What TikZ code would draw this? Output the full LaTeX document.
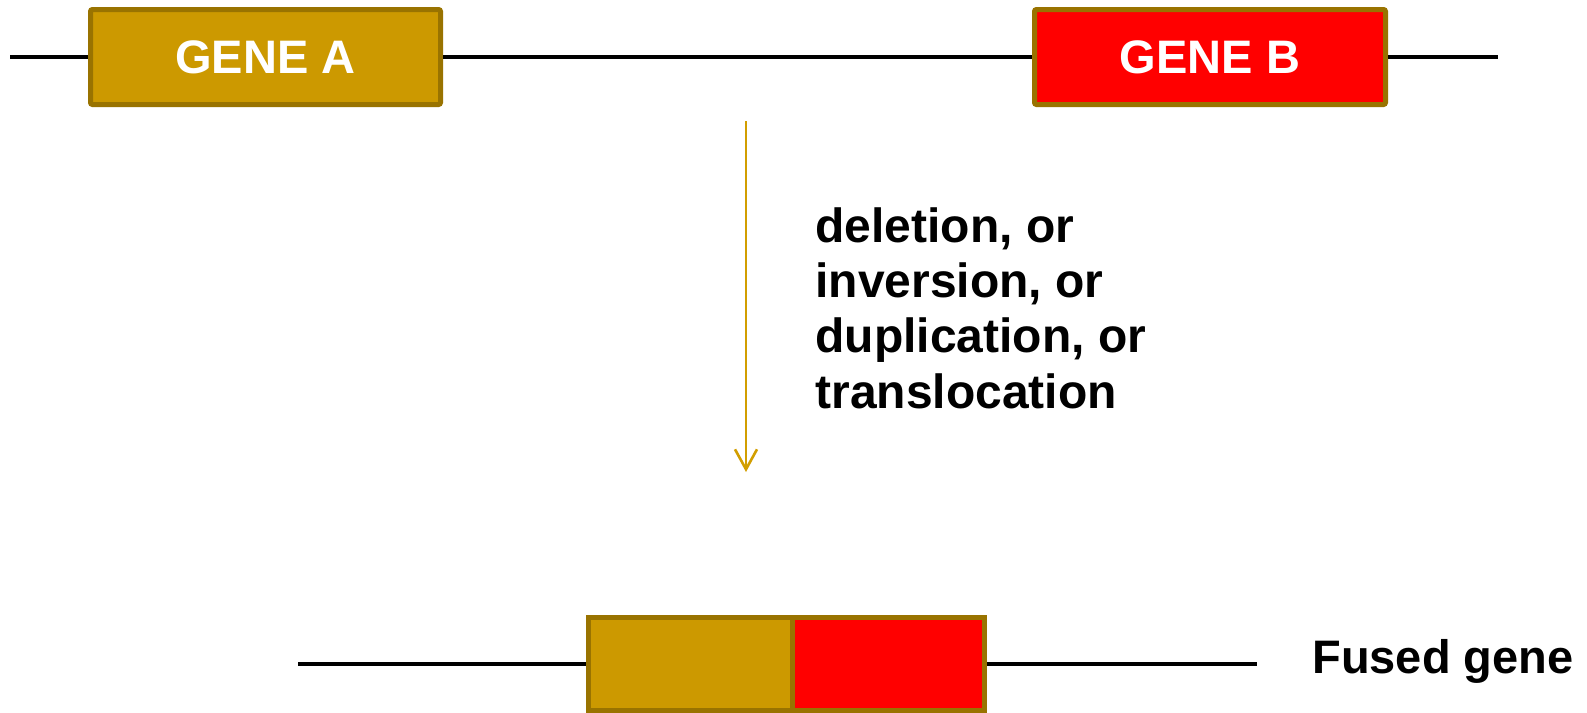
\documentclass[tikz,border=0pt]{standalone}
\usepackage{fontspec}
\setmainfont{Liberation Sans}
\usetikzlibrary{arrows.meta}
\definecolor{genegold}{RGB}{204,153,0}
\definecolor{geneedge}{RGB}{153,115,0}
\definecolor{genered}{RGB}{255,0,0}
\definecolor{arrowgold}{RGB}{210,158,0}
\begin{document}
\begin{tikzpicture}[x=0.5pt,y=-0.5pt,
  chrom/.style={line width=2pt, black},
  genebox/.style={draw=geneedge, line width=2.5pt, rounded corners=1pt,
    inner sep=0pt, minimum height=47.5pt, text=white,
    font=\fontsize{23.5}{28}\selectfont\bfseries},
  fusedbox/.style={draw=geneedge, line width=2.5pt, inner sep=0pt,
    minimum height=46.5pt},
  eventarrow/.style={draw=arrowgold, line width=1.3pt,
    -{Straight Barb[length=10pt,width=11pt,line width=1.3pt]}},
  label/.style={inner sep=0pt, font=\fontsize{24}{27.65}\selectfont\bfseries}
]
\useasboundingbox (0,0) rectangle (1587,713);

% original chromosome with the two genes
\coordinate (chromL) at (10,57);
\coordinate (chromR) at (1498,57);
\node[genebox, fill=genegold, minimum width=175pt] (geneA) at (265.5,57) {GENE A};
\node[genebox, fill=genered, minimum width=175.5pt] (geneB) at (1210,57) {GENE B};
\draw[chrom] (chromL) -- (geneA.west);
\draw[chrom] (geneA.east) -- (geneB.west);
\draw[chrom] (geneB.east) -- (chromR);

% rearrangement arrow and its explanation (base anchor = last line)
\coordinate (arrTop) at (746,121);
\coordinate (arrEnd) at (746,472);
\draw[eventarrow] (arrTop) -- (arrEnd);
\node[label, anchor=base west, align=left] (events) at (815,408)
  {deletion, or\\inversion, or\\duplication, or\\translocation};

% resulting fused gene
\coordinate (fusedL) at (298,664);
\coordinate (fusedR) at (1257,664);
\node[fusedbox, fill=genegold, minimum width=101.75pt] (fusedA) at (690.25,664) {};
\node[fusedbox, fill=genered, minimum width=96.25pt] (fusedB) at (888.25,664) {};
\draw[chrom] (fusedL) -- (fusedA.west);
\draw[chrom] (fusedB.east) -- (fusedR);
\node[label, font=\fontsize{23.5}{28}\selectfont\bfseries, anchor=base west] (fusedText) at (1312,673) {Fused gene};
\end{tikzpicture}
\end{document}
